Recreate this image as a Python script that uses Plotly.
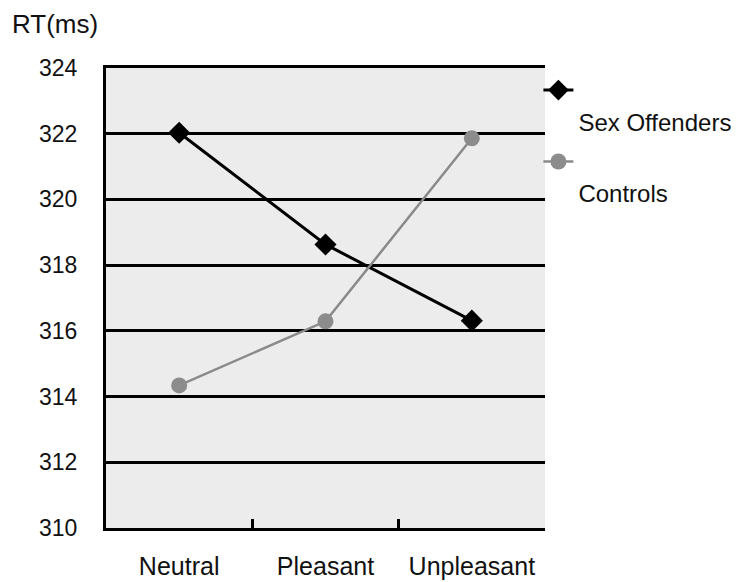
import plotly.graph_objects as go

categories = ["Neutral", "Pleasant", "Unpleasant"]
sex_offenders = [322.03, 318.63, 316.31]
controls = [314.34, 316.29, 321.86]
y_ticks = [310, 312, 314, 316, 318, 320, 322, 324]

FONT = "Liberation Sans, Arial, sans-serif"

fig = go.Figure()
fig.add_trace(go.Scatter(
    x=categories, y=sex_offenders, name="<br>Sex Offenders",
    legendgroup="a",
    mode="lines+markers",
    line=dict(color="black", width=3),
    marker=dict(symbol="diamond", size=17, color="black"),
))
fig.add_trace(go.Scatter(
    x=categories, y=controls, name="<br>Controls",
    legendgroup="b",
    mode="lines+markers",
    line=dict(color="#8a8a8a", width=2.5),
    marker=dict(symbol="circle", size=16, color="#8c8c8c"),
))

# page body has an 8px margin, so the figure is sized to fit the 739x582 window
fig.update_layout(
    width=731, height=574,
    margin=dict(l=98, r=194, t=60, b=54, autoexpand=False),
    paper_bgcolor="white",
    plot_bgcolor="#ececec",
    font=dict(family=FONT, size=22, color="#111"),
    showlegend=True,
    legend=dict(
        x=0.985, y=1.0, xanchor="left", yanchor="top",
        valign="top",
        traceorder="grouped",
        font=dict(size=24),
        bgcolor="rgba(0,0,0,0)",
        tracegroupgap=6,
    ),
    annotations=[dict(
        text="RT(ms)", xref="paper", yref="paper",
        x=-0.218, y=1.096, xanchor="left", yanchor="middle",
        showarrow=False, font=dict(size=26),
    )],
)
fig.update_xaxes(
    type="category",
    tickson="boundaries",
    ticks="inside", ticklen=9, tickwidth=3, tickcolor="black",
    showline=True, linecolor="black", linewidth=3, mirror=True,
    showgrid=False,
    tickfont=dict(size=25),
    tickangle=0,
    ticklabelstandoff=14,
    automargin=False,
    range=[-0.5, 2.5],
)
fig.update_yaxes(
    range=[310, 324],
    tickvals=y_ticks,
    showgrid=True, gridcolor="black", gridwidth=3,
    zeroline=False,
    showline=True, linecolor="black", linewidth=3,
    ticks="",
    tickfont=dict(size=23),
    ticklabelstandoff=21,
    automargin=False,
)

fig.write_html("out.html")
